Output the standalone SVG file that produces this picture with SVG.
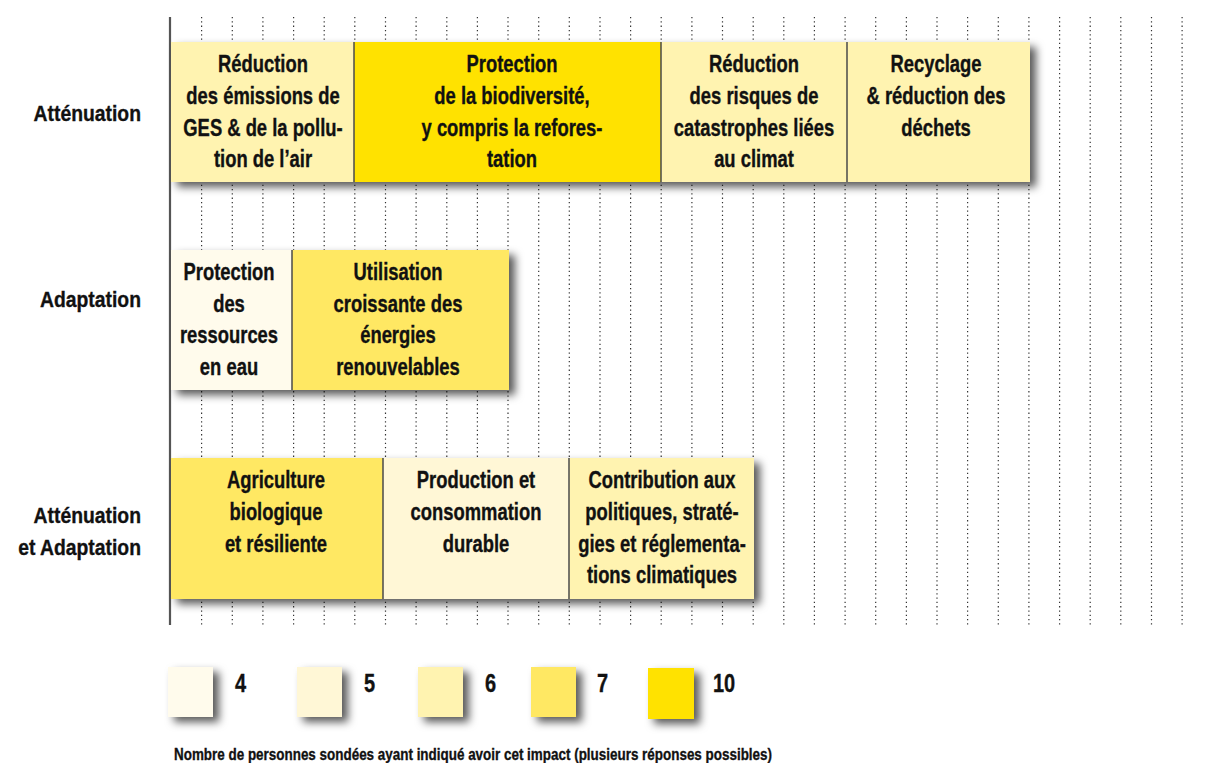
<svg xmlns="http://www.w3.org/2000/svg" width="1208" height="763" viewBox="0 0 1208 763">
<defs>
<filter id="sh" x="-10%" y="-20%" width="130%" height="150%">
<feDropShadow dx="6" dy="5" stdDeviation="4.5" flood-color="#000" flood-opacity="0.65"/>
</filter>
<style>
text{font-family:"Liberation Sans",Arial,sans-serif;font-weight:bold;fill:#111;stroke:#111;stroke-width:0.35;}
.t{font-size:23px;text-anchor:middle;}
.r{font-size:22.5px;text-anchor:end;}
.lg{font-size:25px;}
.c4{fill:#FFFBEC;}
.c5{fill:#FFF7D6;}
.c6{fill:#FFF3B0;}
.c7{fill:#FFE864;}
.c10{fill:#FFE200;}
.sep{stroke:#4a4a4a;stroke-width:1.5;}
.grid{stroke:#333;stroke-width:1.2;stroke-dasharray:1.3 3;fill:none;}
</style>
</defs>
<rect width="1208" height="763" fill="#fff"/>
<g id="grid">
<path class="grid" d="M201.6 17V625M232.3 17V625M262.9 17V625M293.6 17V625M324.2 17V625M354.8 17V625M385.5 17V625M416.1 17V625M446.8 17V625M477.4 17V625M508 17V625M538.7 17V625M569.3 17V625M600 17V625M630.6 17V625M661.2 17V625M691.9 17V625M722.5 17V625M753.2 17V625M783.8 17V625M814.4 17V625M845.1 17V625M875.7 17V625M906.4 17V625M937 17V625M967.6 17V625M998.3 17V625M1028.9 17V625M1059.6 17V625M1090.2 17V625M1120.8 17V625M1151.5 17V625M1182.1 17V625"/>
<line x1="170" y1="17" x2="170" y2="625" stroke="#555" stroke-width="2.2"/>
</g>
<g id="row-labels">
<g transform="translate(141,0) scale(0.86,1)"><text class="r" x="0" y="121">Atténuation</text></g>
<g transform="translate(141,0) scale(0.86,1)"><text class="r" x="0" y="307">Adaptation</text></g>
<g transform="translate(141,0) scale(0.86,1)"><text class="r" x="0" y="523">Atténuation</text><text class="r" x="0" y="555">et Adaptation</text></g>
</g>
<g id="row1">
<g filter="url(#sh)">
<rect class="c6" x="171" y="42" width="183" height="140"/>
<rect class="c10" x="354" y="42" width="307" height="140"/>
<rect class="c6" x="661" y="42" width="186" height="140"/>
<rect class="c6" x="847" y="42" width="183" height="140"/>
</g>
<line class="sep" x1="354" y1="42" x2="354" y2="182"/>
<line class="sep" x1="661" y1="42" x2="661" y2="182"/>
<line class="sep" x1="847" y1="42" x2="847" y2="182"/>
<g id="n-reduction-ges" transform="translate(263,0) scale(0.8,1)"><text class="t"><tspan x="0" y="72">Réduction</tspan><tspan x="0" y="104">des émissions de</tspan><tspan x="0" y="136">GES &amp; de la pollu-</tspan><tspan x="0" y="167">tion de l’air</tspan></text></g>
<g id="n-biodiversite" transform="translate(512,0) scale(0.8,1)"><text class="t"><tspan x="0" y="72">Protection</tspan><tspan x="0" y="104">de la biodiversité,</tspan><tspan x="0" y="136">y compris la refores-</tspan><tspan x="0" y="167">tation</tspan></text></g>
<g id="n-catastrophes" transform="translate(754,0) scale(0.8,1)"><text class="t"><tspan x="0" y="72">Réduction</tspan><tspan x="0" y="104">des risques de</tspan><tspan x="0" y="136">catastrophes liées</tspan><tspan x="0" y="167">au climat</tspan></text></g>
<g id="n-recyclage" transform="translate(936,0) scale(0.8,1)"><text class="t"><tspan x="0" y="72">Recyclage</tspan><tspan x="0" y="104">&amp; réduction des</tspan><tspan x="0" y="136">déchets</tspan></text></g>
</g>
<g id="row2">
<g filter="url(#sh)">
<rect class="c4" x="171" y="250" width="121" height="140"/>
<rect class="c7" x="292" y="250" width="217" height="140"/>
</g>
<line class="sep" x1="292" y1="250" x2="292" y2="390"/>
<g id="n-eau" transform="translate(229,0) scale(0.8,1)"><text class="t"><tspan x="0" y="280">Protection</tspan><tspan x="0" y="312">des</tspan><tspan x="0" y="343">ressources</tspan><tspan x="0" y="375">en eau</tspan></text></g>
<g id="n-energies" transform="translate(398,0) scale(0.8,1)"><text class="t"><tspan x="0" y="280">Utilisation</tspan><tspan x="0" y="312">croissante des</tspan><tspan x="0" y="343">énergies</tspan><tspan x="0" y="375">renouvelables</tspan></text></g>
</g>
<g id="row3">
<g filter="url(#sh)">
<rect class="c7" x="171" y="458" width="212" height="141"/>
<rect class="c5" x="383" y="458" width="186" height="141"/>
<rect class="c6" x="569" y="458" width="185" height="141"/>
</g>
<line class="sep" x1="383" y1="458" x2="383" y2="599"/>
<line class="sep" x1="569" y1="458" x2="569" y2="599"/>
<g id="n-agriculture" transform="translate(276,0) scale(0.8,1)"><text class="t"><tspan x="0" y="488">Agriculture</tspan><tspan x="0" y="520">biologique</tspan><tspan x="0" y="552">et résiliente</tspan></text></g>
<g id="n-production" transform="translate(476,0) scale(0.8,1)"><text class="t"><tspan x="0" y="488">Production et</tspan><tspan x="0" y="520">consommation</tspan><tspan x="0" y="552">durable</tspan></text></g>
<g id="n-politiques" transform="translate(662,0) scale(0.8,1)"><text class="t"><tspan x="0" y="488">Contribution aux</tspan><tspan x="0" y="520">politiques, straté-</tspan><tspan x="0" y="552">gies et réglementa-</tspan><tspan x="0" y="583">tions climatiques</tspan></text></g>
</g>
<g id="legend">
<g filter="url(#sh)">
<rect class="c4" x="168" y="667" width="45" height="50"/>
<rect class="c5" x="297" y="667" width="45" height="50"/>
<rect class="c6" x="418" y="667" width="45" height="50"/>
<rect class="c7" x="531" y="667" width="45" height="50"/>
<rect class="c10" x="648" y="668" width="46" height="51"/>
</g>
<g transform="translate(235,0) scale(0.8,1)"><text class="lg" x="0" y="692">4</text></g>
<g transform="translate(364,0) scale(0.8,1)"><text class="lg" x="0" y="692">5</text></g>
<g transform="translate(485,0) scale(0.8,1)"><text class="lg" x="0" y="692">6</text></g>
<g transform="translate(597,0) scale(0.8,1)"><text class="lg" x="0" y="692">7</text></g>
<g transform="translate(713,0) scale(0.8,1)"><text class="lg" x="0" y="692">10</text></g>
<text x="174" y="760" font-size="17" stroke-width="0.25" textLength="598" lengthAdjust="spacingAndGlyphs">Nombre de personnes sondées ayant indiqué avoir cet impact (plusieurs réponses possibles)</text>
</g>
</svg>
